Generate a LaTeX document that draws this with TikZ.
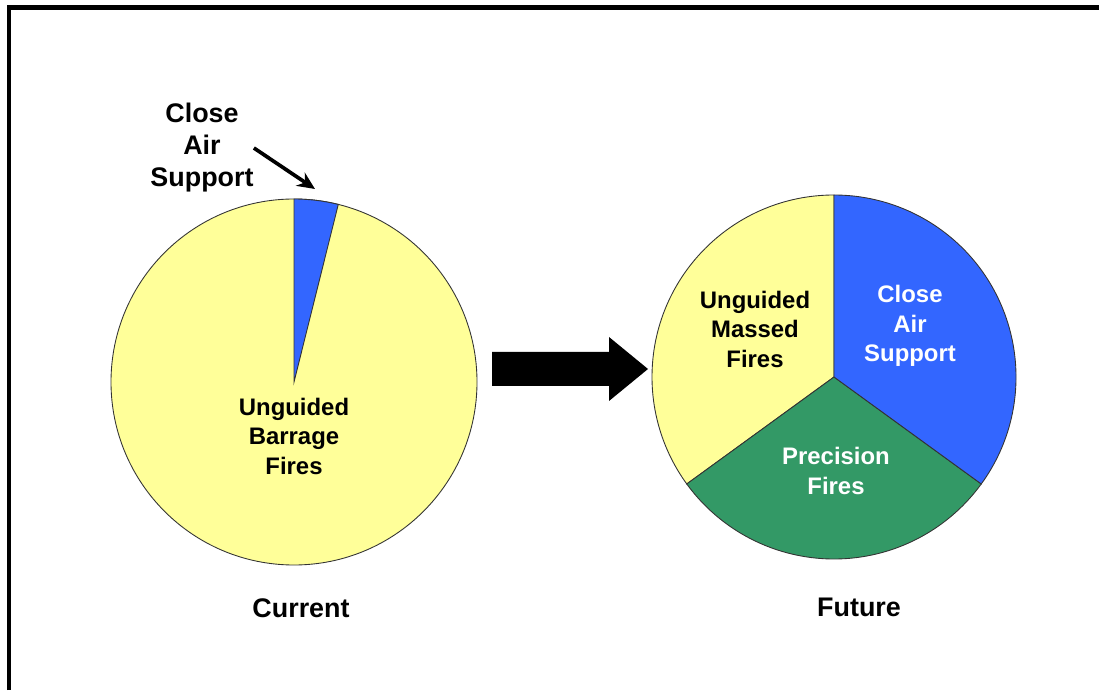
\documentclass[tikz,border=0pt]{standalone}
\usepackage{fontspec}
\setmainfont{Liberation Sans}
\usepackage{xcolor}
\usetikzlibrary{calc,arrows.meta,positioning}

\definecolor{pieyellow}{HTML}{FFFF99}
\definecolor{pieblue}{HTML}{3366FF}
\definecolor{piegreen}{HTML}{339966}

\tikzset{
  pieline/.style={draw=black!80, line width=0.5pt},
  lbl/.style={font=\fontsize{13.6}{16.8}\selectfont\bfseries, align=center, inner sep=1pt},
  wlbl/.style={lbl, text=white},
  bigLbl/.style={lbl, font=\fontsize{15.3}{18.2}\selectfont\bfseries}
}

\begin{document}
\begin{tikzpicture}
\useasboundingbox (0,0) rectangle (21.98,13.8);
% frame
\draw[line width=2.3pt] (0.18,0) -- (0.18,13.65) -- (21.98,13.65);

% current
\begin{scope}[shift={(5.88,6.16)}]
\draw[pieline, fill=pieyellow] (0,0) circle (3.66);
\draw[pieline, fill=pieblue] (0,0) -- (90:3.66) arc (90:76:3.66) -- cycle;
\node[lbl] (barrage) at (0,-1.08) {Unguided\\Barrage\\Fires};
\end{scope}
\node[bigLbl] (current) at (6.02,1.64) {Current};
\node[bigLbl, inner sep=0pt] (casOld) at (4.04,10.84) {Close\\Air\\Support};
\coordinate (casTip) at (6.3,10.02);
\draw[line width=2.1pt, -{Stealth[length=10pt,width=9pt]}] (casOld.east) -- (casTip);

% big arrow
\fill[black] (9.84,6.08) -- (12.18,6.08) -- (12.18,5.78) -- (12.96,6.42)
  -- (12.18,7.06) -- (12.18,6.76) -- (9.84,6.76) -- cycle;

% future
\begin{scope}[shift={(16.68,6.26)}]
\draw[pieline, fill=pieyellow] (0,0) -- (90:3.64) arc (90:216:3.64) -- cycle;
\draw[pieline, fill=piegreen] (0,0) -- (216:3.64) arc (216:324:3.64) -- cycle;
\draw[pieline, fill=pieblue] (0,0) -- (324:3.64) arc (324:450:3.64) -- cycle;
\end{scope}
\node[lbl] (massed) at (15.1,7.22) {Unguided\\Massed\\Fires};
\node[wlbl] (casNew) at (18.2,7.28) {Close\\Air\\Support};
\node[wlbl] (precision) at (16.72,4.38) {Precision\\Fires};
\node[bigLbl] (future) at (17.18,1.66) {Future};
\end{tikzpicture}
\end{document}
